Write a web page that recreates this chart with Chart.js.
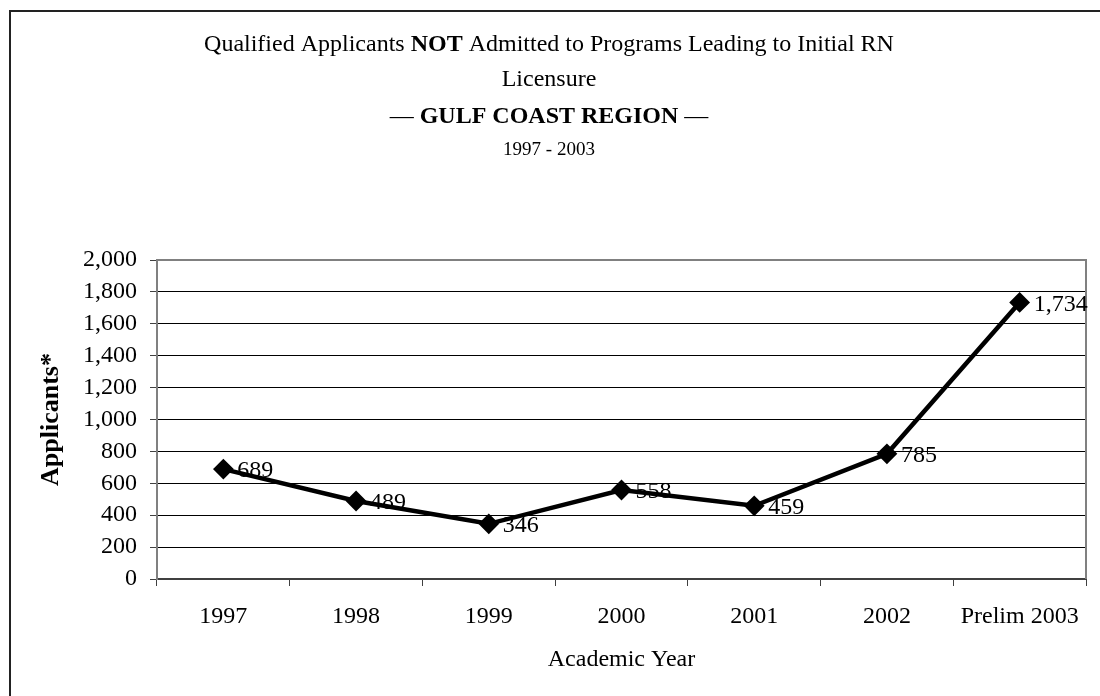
<!DOCTYPE html>
<html>
<head>
<meta charset="utf-8">
<script src="https://cdn.jsdelivr.net/npm/chart.js@4/dist/chart.umd.min.js"></script>
<style>
  html, body { margin: 0; padding: 0; background: #fff; }
  #wrap { width: 1100px; height: 696px; position: relative; }
</style>
</head>
<body>
<div id="wrap"><canvas id="canvas_line"></canvas></div>
<script>
// data
const years = ['1997', '1998', '1999', '2000', '2001', '2002', 'Prelim 2003'];
const applicants = [689, 489, 346, 558, 459, 785, 1734];
const yTicks = [0, 200, 400, 600, 800, 1000, 1200, 1400, 1600, 1800, 2000];

const serif = '"Liberation Serif", "Times New Roman", serif';

// title lines, some words bold
const titleLines = [
  { y: 45, size: 24, parts: [['Qualified Applicants ', false], ['NOT', true], [' Admitted to Programs Leading to Initial RN', false]] },
  { y: 80, size: 24, parts: [['Licensure', false]] },
  { y: 117, size: 24, parts: [['\u2014 ', false], ['GULF COAST REGION', true], [' \u2014', false]] },
  { y: 150, size: 19, parts: [['1997 - 2003', false]] },
];

const fmt = v => v.toLocaleString('en-US');

const decor = {
  id: 'decor',
  beforeDraw(chart) {
    const ctx = chart.ctx;
    ctx.save();
    // frame (top + left edges only)
    ctx.strokeStyle = '#222';
    ctx.lineWidth = 2;
    ctx.beginPath();
    ctx.moveTo(10, 700);
    ctx.lineTo(10, 11);
    ctx.lineTo(1100, 11);
    ctx.stroke();

    // titles
    ctx.fillStyle = '#000';
    ctx.textBaseline = 'middle';
    ctx.textAlign = 'left';
    const cx = 549;
    titleLines.forEach(line => {
      let total = 0;
      line.parts.forEach(p => {
        ctx.font = (p[1] ? 'bold ' : '') + line.size + 'px ' + serif;
        total += ctx.measureText(p[0]).width;
      });
      let x = cx - total / 2;
      line.parts.forEach(p => {
        ctx.font = (p[1] ? 'bold ' : '') + line.size + 'px ' + serif;
        ctx.fillText(p[0], x, line.y);
        x += ctx.measureText(p[0]).width;
      });
    });
    ctx.restore();
  },
  afterDraw(chart) {
    const { ctx, chartArea: a } = chart;
    ctx.save();
    // plot area top + right border
    ctx.strokeStyle = '#808080';
    ctx.lineWidth = 2;
    ctx.beginPath();
    ctx.moveTo(a.left, a.top);
    ctx.lineTo(a.right, a.top);
    ctx.lineTo(a.right, a.bottom);
    ctx.stroke();

    // value labels
    const meta = chart.getDatasetMeta(0);
    ctx.font = '24px ' + serif;
    ctx.fillStyle = '#000';
    ctx.textAlign = 'left';
    ctx.textBaseline = 'middle';
    meta.data.forEach((pt, i) => {
      ctx.fillText(fmt(applicants[i]), pt.x + 14, pt.y + 2);
    });
    ctx.restore();
  }
};

const config_line = {
  type: 'line',
  data: {
    labels: years,
    datasets: [{
      data: applicants,
      borderColor: '#000',
      backgroundColor: '#000',
      borderWidth: 4.5,
      pointStyle: 'rectRot',
      pointRadius: 9,
      pointHoverRadius: 9,
      pointBorderWidth: 2,
      tension: 0,
    }]
  },
  options: {
    responsive: false,
    animation: false,
    layout: { padding: { top: 260, right: 14, left: 0, bottom: 0 } },
    plugins: { legend: { display: false }, tooltip: { enabled: false }, title: { display: false } },
    scales: {
      x: {
        offset: true,
        afterFit: s => { s.height = 117; },
        grid: { offset: true, drawOnChartArea: false, tickLength: 7, color: '#404040', lineWidth: 1 },
        border: { color: '#404040', width: 2 },
        ticks: { color: '#000', font: { family: serif, size: 24 }, padding: 16, maxRotation: 0, autoSkip: false },
        title: { display: true, text: 'Academic Year', color: '#000', font: { family: serif, size: 24 }, padding: { bottom: 22 } }
      },
      y: {
        min: 0,
        max: 2000,
        afterFit: s => { s.width = 157; },
        afterBuildTicks: s => { s.ticks = yTicks.map(v => ({ value: v })); },
        grid: { color: '#000', lineWidth: 1, tickLength: 7, tickColor: '#404040' },
        border: { color: '#808080', width: 2 },
        ticks: { color: '#000', font: { family: serif, size: 24 }, padding: 13, callback: v => fmt(v) },
        title: { display: true, text: 'Applicants*', color: '#000', font: { family: serif, size: 26, weight: 'bold' }, padding: { top: 36 } }
      }
    }
  },
  plugins: [decor]
};

const canvas_line = document.getElementById('canvas_line');
canvas_line.width = 1100;
canvas_line.height = 696;
const chart_line = new Chart(canvas_line, config_line);
</script>
</body>
</html>
